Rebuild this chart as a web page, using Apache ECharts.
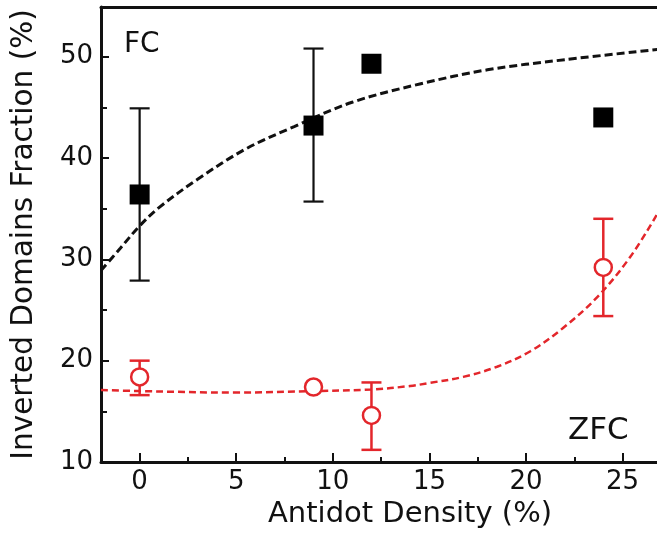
<!DOCTYPE html>
<html>
<head>
<meta charset="utf-8">
<script src="https://cdn.jsdelivr.net/npm/echarts@6/dist/echarts.min.js"></script>
<style>html,body{margin:0;padding:0;background:#fff;}#c{width:657px;height:539px;}</style>
</head>
<body>
<div id="c"></div>
<script>
// ---- data ----
const xMajorTicks = [0, 5, 10, 15, 20, 25];
const xMinorTicks = [2.5, 7.5, 12.5, 17.5, 22.5];
const yMajorTicks = [10, 20, 30, 40, 50];
const yMinorTicks = [15, 25, 35, 45];

const density = [0, 9, 12, 24];
const fcValues = [36.4, 43.2, 49.3, 44.0];
const fcLow    = [27.9, 35.7, null, null];
const fcHigh   = [44.9, 50.8, null, null];

const zfcValues = [18.4, 17.4, 14.6, 29.2];
const zfcLow    = [16.6, null, 11.2, 24.4];
const zfcHigh   = [20.0, null, 17.85, 34.0];

// fitted guide curves
const fcFitX  = [-2, -1, 0, 1, 3, 5.5, 8, 11, 14.5, 18, 22, 26.8];
const fcFitY  = [28.9, 31.1, 33.3, 35.1, 37.9, 40.9, 43.1, 45.5, 47.3, 48.7, 49.7, 50.7];
const zfcFitX = [-2, 0, 5, 9, 12, 14, 15, 16.75, 18.5, 20.2, 21.9, 23.7, 25.4, 26.8];
const zfcFitY = [17.1, 17.0, 16.85, 17.0, 17.15, 17.5, 17.8, 18.4, 19.4, 20.9, 23.2, 26.3, 30.25, 34.5];

const xTitle = 'Antidot Density (%)';
const yTitle = 'Inverted Domains Fraction (%)';
// ---------------------------------------

const FONT = 'DejaVu Sans';
const RED = '#e3262b';
const INK = '#111111';

const zip = (a, b) => a.map((v, i) => [v, b[i]]);
const errData = (lo, hi, vals) => density.map((x, i) => [x, vals[i], lo[i], hi[i]]).filter(d => d[2] != null);

function errRender(color, width) {
  return function (params, api) {
    const x = api.value(0);
    const lo = api.coord([x, api.value(2)]);
    const hi = api.coord([x, api.value(3)]);
    const cap = 10;
    const st = { stroke: color, lineWidth: width };
    return {
      type: 'group',
      children: [
        { type: 'line', shape: { x1: lo[0], y1: lo[1], x2: hi[0], y2: hi[1] }, style: st },
        { type: 'line', shape: { x1: lo[0] - cap, y1: lo[1], x2: lo[0] + cap, y2: lo[1] }, style: st },
        { type: 'line', shape: { x1: hi[0] - cap, y1: hi[1], x2: hi[0] + cap, y2: hi[1] }, style: st }
      ]
    };
  };
}

const X_MIN = -2, X_MAX = 26.78, Y_MIN = 10, Y_MAX = 54.9;
const axisBase = { min: X_MIN, max: X_MAX, type: 'value', splitLine: { show: false } };
const yBase = { min: Y_MIN, max: Y_MAX, type: 'value', splitLine: { show: false } };

const chart = echarts.init(document.getElementById('c'), null, { renderer: 'canvas' });
chart.setOption({
  animation: false,
  backgroundColor: '#ffffff',
  grid: { left: 101, right: 0, top: 7, bottom: 77, containLabel: false },
  xAxis: [
    Object.assign({}, axisBase, {
      position: 'bottom',
      axisLine: { show: true, onZero: false, lineStyle: { color: INK, width: 3 } },
      axisTick: { show: true, inside: true, length: 9, customValues: xMajorTicks, lineStyle: { color: INK, width: 2 } },
      axisLabel: { show: true, customValues: xMajorTicks, margin: 7, fontFamily: FONT, fontSize: 26, color: INK },
      name: xTitle, nameLocation: 'middle', nameGap: 38,
      nameTextStyle: { fontFamily: FONT, fontSize: 29, color: INK, padding: [0, 0, 0, 62] }
    }),
    Object.assign({}, axisBase, {
      position: 'bottom',
      axisLine: { show: false, onZero: false },
      axisTick: { show: true, inside: true, length: 5, customValues: xMinorTicks, lineStyle: { color: INK, width: 2 } },
      axisLabel: { show: false }
    }),
    Object.assign({}, axisBase, {
      position: 'top',
      axisLine: { show: true, onZero: false, lineStyle: { color: INK, width: 3 } },
      axisTick: { show: false },
      axisLabel: { show: false }
    })
  ],
  yAxis: [
    Object.assign({}, yBase, {
      position: 'left',
      axisLine: { show: true, onZero: false, lineStyle: { color: INK, width: 3 } },
      axisTick: { show: true, inside: true, length: 8, customValues: yMajorTicks, lineStyle: { color: INK, width: 2 } },
      axisLabel: { show: true, customValues: yMajorTicks, margin: 8, fontFamily: FONT, fontSize: 26, color: INK },
      name: yTitle, nameLocation: 'middle', nameGap: 62,
      nameTextStyle: { fontFamily: FONT, fontSize: 29.5, color: INK }
    }),
    Object.assign({}, yBase, {
      position: 'left',
      axisLine: { show: false, onZero: false },
      axisTick: { show: true, inside: true, length: 6, customValues: yMinorTicks, lineStyle: { color: INK, width: 2 } },
      axisLabel: { show: false }
    })
  ],
  series: [
    {
      type: 'line', name: 'FC fit', data: zip(fcFitX, fcFitY), smooth: 0.35, showSymbol: false,
      lineStyle: { color: INK, width: 3, type: [8, 4] }, z: 2
    },
    {
      type: 'line', name: 'ZFC fit', data: zip(zfcFitX, zfcFitY), smooth: 0.35, showSymbol: false,
      lineStyle: { color: RED, width: 2.5, type: [7, 4] }, z: 2
    },
    {
      type: 'custom', name: 'FC err', data: errData(fcLow, fcHigh, fcValues),
      encode: { x: 0, y: [2, 3] }, renderItem: errRender(INK, 2.2), z: 3
    },
    {
      type: 'custom', name: 'ZFC err', data: errData(zfcLow, zfcHigh, zfcValues),
      encode: { x: 0, y: [2, 3] }, renderItem: errRender(RED, 2.5), z: 3
    },
    {
      type: 'scatter', name: 'FC', data: zip(density, fcValues), symbol: 'rect', symbolSize: 20,
      itemStyle: { color: '#000000', opacity: 1 }, z: 4
    },
    {
      type: 'scatter', name: 'ZFC', data: zip(density, zfcValues), symbol: 'circle', symbolSize: 17,
      itemStyle: { color: '#ffffff', borderColor: RED, borderWidth: 2.5, opacity: 1 }, z: 4
    }
  ],
  graphic: [
    { type: 'text', left: 124, top: 31, style: { text: 'FC', fontFamily: FONT, fontSize: 28, fill: INK } },
    { type: 'text', left: 568, top: 415, style: { text: 'ZFC', fontFamily: FONT, fontSize: 31, fill: INK } }
  ]
});
</script>
</body>
</html>
